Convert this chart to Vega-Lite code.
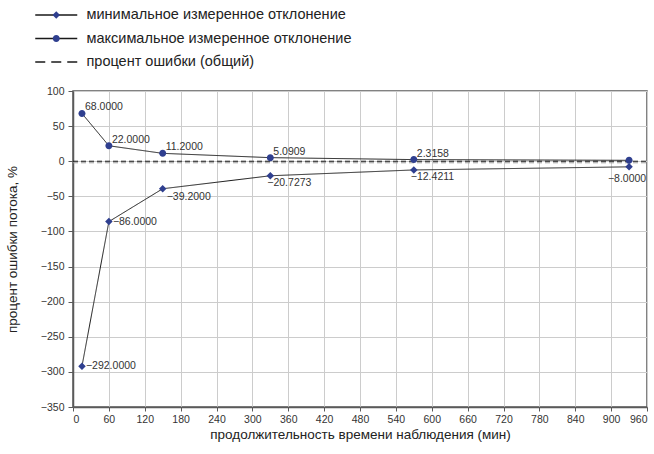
{
  "$schema": "https://vega.github.io/schema/vega-lite/v6.json",
  "width": 574,
  "height": 316,
  "autosize": "none",
  "padding": {"left": 73, "top": 91, "right": 7, "bottom": 47},
  "config": {
    "font": "Liberation Sans",
    "view": {"stroke": "#5a5a5a", "strokeWidth": 1.5},
    "axis": {
      "gridColor": "#cccccc", "gridWidth": 1,
      "domainColor": "#5a5a5a", "domainWidth": 1.5,
      "tickColor": "#5a5a5a", "tickSize": 5,
      "labelFontSize": 10.5, "labelColor": "#333333",
      "titleFontSize": 13.5, "titleFontWeight": "normal", "titleColor": "#222222"
    }
  },
  "datasets": {
    "pts": [
      {"t": 15, "pct": -292, "series": "минимальное измеренное отклонение"},
      {"t": 60, "pct": -86, "series": "минимальное измеренное отклонение"},
      {"t": 150, "pct": -39.2, "series": "минимальное измеренное отклонение"},
      {"t": 330, "pct": -20.7273, "series": "минимальное измеренное отклонение"},
      {"t": 570, "pct": -12.4211, "series": "минимальное измеренное отклонение"},
      {"t": 930, "pct": -8, "series": "минимальное измеренное отклонение"},
      {"t": 15, "pct": 68, "series": "максимальное измеренное отклонение"},
      {"t": 60, "pct": 22, "series": "максимальное измеренное отклонение"},
      {"t": 150, "pct": 11.2, "series": "максимальное измеренное отклонение"},
      {"t": 330, "pct": 5.0909, "series": "максимальное измеренное отклонение"},
      {"t": 570, "pct": 2.3158, "series": "максимальное измеренное отклонение"},
      {"t": 930, "pct": 1.29, "series": "максимальное измеренное отклонение"},
      {"t": 0, "pct": 0, "series": "процент ошибки (общий)"},
      {"t": 960, "pct": 0, "series": "процент ошибки (общий)"}
    ],
    "aux": [
      {"t": 0, "pct": -2.2},
      {"t": 960, "pct": -2.2}
    ]
  },
  "encoding": {
    "x": {
      "field": "t", "type": "quantitative",
      "scale": {"domain": [0, 960], "nice": false, "zero": false},
      "axis": {"values": [0,60,120,180,240,300,360,420,480,540,600,660,720,780,840,900,960], "title": "продолжительность времени наблюдения (мин)", "titlePadding": 3, "labelPadding": 3, "tickSize": 4}
    },
    "y": {
      "field": "pct", "type": "quantitative",
      "scale": {"domain": [-350, 100], "nice": false, "zero": false},
      "axis": {"values": [-350,-300,-250,-200,-150,-100,-50,0,50,100], "title": "процент ошибки потока, %", "titlePadding": 21, "labelPadding": 4}
    }
  },
  "layer": [
    {
      "data": {"name": "aux"},
      "mark": {"type": "line", "color": "#9a9a9a", "strokeWidth": 1, "strokeDash": [5, 3]}
    },
    {
      "data": {"name": "pts"},
      "transform": [{"filter": "datum.series === 'процент ошибки (общий)'"}],
      "mark": {"type": "line", "color": "#1a1a1a", "strokeWidth": 1, "strokeDash": [5, 3]}
    },
    {
      "data": {"name": "pts"},
      "transform": [{"filter": "datum.series !== 'процент ошибки (общий)'"}],
      "mark": {"type": "line", "color": "#1a1a1a", "strokeWidth": 1},
      "encoding": {
        "strokeDash": {
          "field": "series", "type": "nominal",
          "scale": {
            "domain": ["минимальное измеренное отклонение", "максимальное измеренное отклонение", "процент ошибки (общий)"],
            "range": [[1, 0], [1, 0], [10, 6]]
          },
          "legend": {
            "orient": "none", "legendX": -24, "legendY": -83.25, "title": null, "direction": "vertical",
            "symbolType": "M-4.2,0H4.2", "symbolSize": 100,
            "symbolStrokeColor": "#1a1a1a", "symbolStrokeWidth": 1.5,
            "labelFontSize": 14.5, "labelColor": "#222222", "labelOffset": 23, "labelLimit": 400,
            "rowPadding": 8.5, "padding": 0
          }
        }
      }
    },
    {
      "data": {"name": "pts"},
      "transform": [{"filter": "datum.series !== 'процент ошибки (общий)'"}],
      "mark": {"type": "point", "filled": true, "opacity": 1, "color": "#2f3f8f", "size": 100},
      "encoding": {
        "shape": {
          "field": "series", "type": "nominal",
          "scale": {
            "domain": ["минимальное измеренное отклонение", "максимальное измеренное отклонение"],
            "range": ["M0,-0.75L0.75,0L0,0.75L-0.75,0Z", "M-0.7,0A0.7,0.7,0,1,1,0.7,0A0.7,0.7,0,1,1,-0.7,0Z"]
          },
          "legend": {
            "orient": "none", "legendX": -24, "legendY": -83.25, "title": null, "direction": "vertical",
            "symbolSize": 100, "symbolFillColor": "#2f3f8f", "symbolStrokeColor": "#2f3f8f", "symbolStrokeWidth": 0,
            "labelFontSize": 14.5, "labelOffset": 23, "labelLimit": 400, "labelOpacity": 0,
            "rowPadding": 8.5, "padding": 0, "zindex": 2
          }
        }
      }
    },
    {
      "data": {"name": "pts"},
      "transform": [{"filter": "datum.series === 'максимальное измеренное отклонение' && datum.t < 900"}],
      "mark": {"type": "text", "align": "left", "baseline": "middle", "dx": 3, "dy": -6, "fontSize": 10.5, "color": "#333333"},
      "encoding": {"text": {"field": "pct", "type": "quantitative", "format": ".4f"}}
    },
    {
      "data": {"name": "pts"},
      "transform": [{"filter": "datum.series === 'минимальное измеренное отклонение' && datum.t <= 60"}],
      "mark": {"type": "text", "align": "left", "baseline": "middle", "dx": 4, "dy": 0, "fontSize": 10.5, "color": "#333333"},
      "encoding": {"text": {"field": "pct", "type": "quantitative", "format": ".4f"}}
    },
    {
      "data": {"name": "pts"},
      "transform": [{"filter": "datum.series === 'минимальное измеренное отклонение' && datum.t > 60 && datum.t < 200"}],
      "mark": {"type": "text", "align": "left", "baseline": "middle", "dx": 4, "dy": 8, "fontSize": 10.5, "color": "#333333"},
      "encoding": {"text": {"field": "pct", "type": "quantitative", "format": ".4f"}}
    },
    {
      "data": {"name": "pts"},
      "transform": [{"filter": "datum.series === 'минимальное измеренное отклонение' && datum.t > 200 && datum.t < 900"}],
      "mark": {"type": "text", "align": "left", "baseline": "middle", "dx": -3, "dy": 7, "fontSize": 10.5, "color": "#333333"},
      "encoding": {"text": {"field": "pct", "type": "quantitative", "format": ".4f"}}
    },
    {
      "data": {"name": "pts"},
      "transform": [{"filter": "datum.series === 'минимальное измеренное отклонение' && datum.t > 900"}],
      "mark": {"type": "text", "align": "center", "baseline": "middle", "dx": -2, "dy": 12, "fontSize": 10.5, "color": "#333333"},
      "encoding": {"text": {"field": "pct", "type": "quantitative", "format": ".4f"}}
    }
  ]
}
